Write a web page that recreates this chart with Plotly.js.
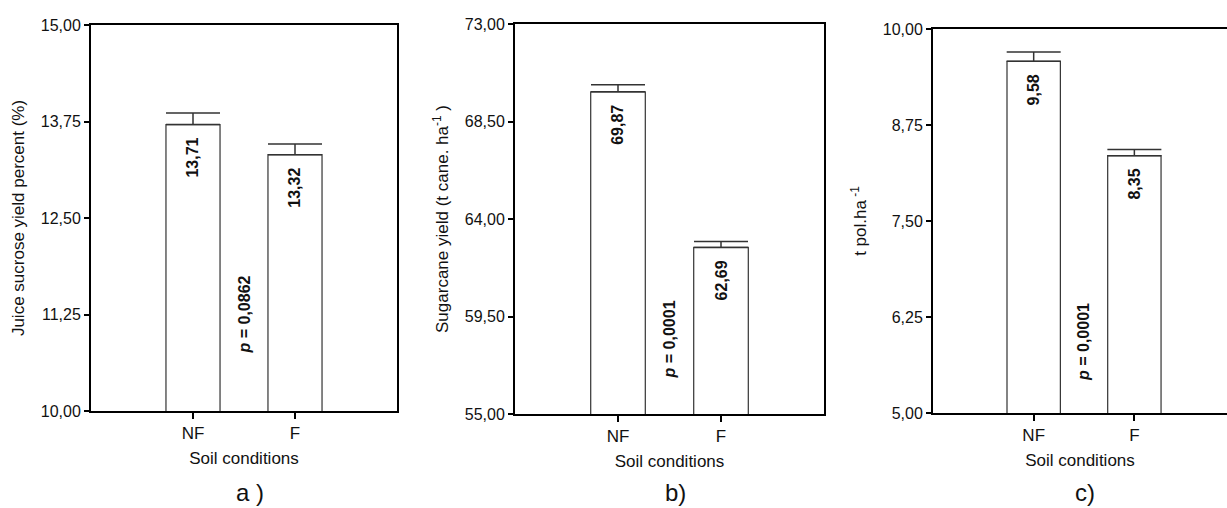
<!DOCTYPE html>
<html>
<head>
<meta charset="utf-8">
<script src="https://cdn.plot.ly/plotly-3.0.1.min.js"></script>
<style>
html,body{margin:0;padding:0;background:#fff;}
#chart{width:1227px;height:508px;}
</style>
</head>
<body>
<div id="chart"></div>
<script>
// ---- data ----
const categories = ['NF', 'F'];
const sucroseValues = [13.71, 13.32];
const sucroseErrors = [0.15, 0.14];
const caneValues = [69.87, 62.69];
const caneErrors = [0.33, 0.27];
const polValues = [9.58, 8.35];
const polErrors = [0.12, 0.08];
const pValues = ['0,0862', '0,0001', '0,0001'];
const panelLabels = ['a )', 'b)', 'c)'];
const yTitles = ['Juice sucrose yield percent (%)', 'Sugarcane yield (t cane. ha<sup>-1</sup> )', 't pol.ha<sup> -1</sup>'];
const xTitle = 'Soil conditions';
const sucroseTicks = [10, 11.25, 12.5, 13.75, 15];
const sucroseTickText = ['10,00', '11,25', '12,50', '13,75', '15,00'];
const caneTicks = [55, 59.5, 64, 68.5, 73];
const caneTickText = ['55,00', '59,50', '64,00', '68,50', '73,00'];
const polTicks = [5, 6.25, 7.5, 8.75, 10];
const polTickText = ['5,00', '6,25', '7,50', '8,75', '10,00'];

const FONT = 'Liberation Sans, Arial, sans-serif';
const INK = '#111';
const fmt = v => v.toFixed(2).replace('.', ',');

const panels = [
  {vals: sucroseValues, errs: sucroseErrors, ticks: sucroseTicks, tt: sucroseTickText, range: [10, 15],
   xdom: [91/1227, 397/1227], ydom: [1-411/508, 1-25/508], xr: [-1, 2], mirrorY: true, pY: 0.25, labX: 250, labY: 492},
  {vals: caneValues, errs: caneErrors, ticks: caneTicks, tt: caneTickText, range: [55, 73],
   xdom: [515/1227, 824/1227], ydom: [1-414/508, 1-24/508], xr: [-1, 2], mirrorY: true, pY: 0.19, labX: 675, labY: 492},
  {vals: polValues, errs: polErrors, ticks: polTicks, tt: polTickText, range: [5, 10],
   xdom: [933/1227, 1], ydom: [1-413/508, 1-29/508], xr: [-1, 1.92], mirrorY: false, pY: 0.185, labX: 1085, labY: 492}
];

const traces = [];
const layout = {
  width: 1227, height: 508,
  margin: {l: 0, r: 0, t: 0, b: 0},
  paper_bgcolor: '#fff', plot_bgcolor: '#fff',
  showlegend: false,
  font: {family: FONT, color: INK, size: 16},
  annotations: []
};

panels.forEach((p, i) => {
  const n = i === 0 ? '' : String(i + 1);
  const xa = 'x' + n, ya = 'y' + n;
  traces.push({
    type: 'bar', x: categories, y: p.vals, xaxis: xa, yaxis: ya,
    width: 0.53, base: 0,
    marker: {color: '#fff', line: {color: '#333', width: 1.2}},
    error_y: {type: 'data', array: p.errs, arrayminus: [0, 0], symmetric: false,
              color: '#333', thickness: 1.5, width: 27},
    hoverinfo: 'skip'
  });
  layout['xaxis' + n] = {
    domain: p.xdom, anchor: ya, type: 'category', range: p.xr,
    showline: true, linecolor: '#000', linewidth: 2, mirror: true,
    ticks: 'outside', ticklen: 6, tickwidth: 2, tickcolor: '#000',
    showgrid: false, zeroline: false,
    tickfont: {family: FONT, size: 17, color: INK},
    title: {text: xTitle, font: {family: FONT, size: 17, color: INK}, standoff: 10}
  };
  layout['yaxis' + n] = {
    domain: p.ydom, anchor: xa, range: p.range,
    tickvals: p.ticks, ticktext: p.tt,
    showline: true, linecolor: '#000', linewidth: 2, mirror: p.mirrorY,
    ticks: 'outside', ticklen: 5, tickwidth: 2, tickcolor: '#000',
    showgrid: false, zeroline: false,
    tickfont: {family: FONT, size: 16, color: INK},
    title: {text: yTitles[i], font: {family: FONT, size: 17, color: INK}, standoff: 12}
  };
  // value labels inside bars
  p.vals.forEach((v, k) => {
    layout.annotations.push({
      xref: xa, yref: ya, x: k, y: v, text: '<b>' + fmt(v) + '</b>',
      textangle: -90, yanchor: 'top', xanchor: 'center', yshift: -11,
      showarrow: false, font: {family: FONT, size: 16, color: INK}
    });
  });
  // p-value
  layout.annotations.push({
    xref: xa, yref: ya + ' domain', x: 0.5, y: p.pY,
    text: '<b><i>p</i> = ' + pValues[i] + '</b>',
    textangle: -90, yanchor: 'middle', xanchor: 'center',
    showarrow: false, font: {family: FONT, size: 16, color: INK}
  });
  // panel label
  layout.annotations.push({
    xref: 'paper', yref: 'paper', x: p.labX / 1227, y: 1 - p.labY / 508,
    text: panelLabels[i], showarrow: false, xanchor: 'center', yanchor: 'middle',
    font: {family: FONT, size: 24, color: INK}
  });
});

Plotly.newPlot('chart', traces, layout, {displayModeBar: false, staticPlot: true});
</script>
</body>
</html>
